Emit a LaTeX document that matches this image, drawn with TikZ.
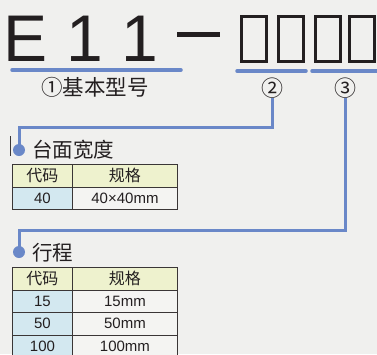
\documentclass[tikz,border=0pt]{standalone}
\usepackage{fontspec}
\setmainfont{Liberation Sans}
\newfontfamily\cjk{Noto Sans CJK SC}
\usetikzlibrary{positioning,calc}
\definecolor{bggray}{HTML}{F0F0EE}
\definecolor{lineblue}{HTML}{6A88C8}
\definecolor{headfill}{HTML}{EEF2CE}
\definecolor{codefill}{HTML}{D3E8F0}
\definecolor{specfill}{HTML}{F4F4F2}
\definecolor{gridgray}{HTML}{3A3636}
\definecolor{inkdark}{HTML}{231F20}

\tikzset{
  underline/.style={lineblue, line width=3.5pt, line cap=round},
  leader/.style={lineblue, line width=3pt},
  tofu/.style={draw=inkdark, line width=3pt},
  cell/.style={draw=gridgray, line width=0.9pt, inner sep=0pt, anchor=north west,
    minimum height=22.5pt, text=inkdark, font=\fontsize{15}{15}\selectfont},
  codecell/.style={cell, minimum width=60pt},
  speccell/.style={cell, minimum width=105pt},
  headtext/.style={font=\cjk\fontsize{16}{16}\selectfont},
  marker/.style={circle, fill=lineblue, inner sep=0pt, minimum size=12pt},
  heading/.style={anchor=west, inner sep=0pt, text=inkdark, font=\cjk\fontsize{20.5}{20.5}\selectfont}
}

\begin{document}
\begin{tikzpicture}[x=1pt,y=-1pt]
\fill[bggray] (0,0) rectangle (377,354);
\useasboundingbox (0,0) rectangle (377,354);

% Model code
\node[anchor=base west, inner sep=0pt, text=inkdark, font=\fontsize{66}{66}\selectfont] (code) at (3.8,61) {E 1 1};
\fill[inkdark] (177,31.7) rectangle (220,37.3);
\foreach \x/\name in {240/boxa, 277/boxb, 314/boxc, 348/boxd} {
    \draw[tofu] (\x+1.5,16.5) rectangle (\x+26.5,61.5);
}

% Underlines
\draw[underline] (12,70) -- (181,70);
\draw[underline] (237,71) -- (306,71);
\draw[underline] (312,71) -- (380,71);

\node[anchor=west, inner sep=0pt, text=inkdark, font=\cjk\fontsize{21.5}{21.5}\selectfont] (basic) at (41,87) {①基本型号};
\node[inner sep=0pt, text=inkdark, font=\cjk\fontsize{22}{22}\selectfont] (mark2) at (272,88) {②};
\node[inner sep=0pt, text=inkdark, font=\cjk\fontsize{22}{22}\selectfont] (mark3) at (345,88) {③};

% Leader lines
\node[marker] (dot1) at (19,150) {};
\node[marker] (dot2) at (19,252) {};
\coordinate (bend1a) at (272,127);
\coordinate (bend1b) at (19,127);
\coordinate (bend2a) at (345,230);
\coordinate (bend2b) at (19,230);
\draw[leader] (mark2.south) -- (bend1a) -- (bend1b) -- (dot1.center);
\draw[leader] (mark3.south) -- (bend2a) -- (bend2b) -- (dot2.center);
\draw[gridgray, line width=0.8pt] (10.5,136) -- (10.5,156);

% Table width
\node[heading] (title1) at (32,150) {台面宽度};
\node[codecell, fill=headfill, headtext] (h1a) at (12,164) {代码};
\node[speccell, fill=headfill, headtext] (h1b) at (72,164) {规格};
\node[codecell, fill=codefill] (r1a) at (12,186.5) {40};
\node[speccell, fill=specfill] (r1b) at (72,186.5) {40×40mm};

% Stroke
\node[heading] (title2) at (32,253) {行程};
\node[codecell, fill=headfill, headtext] (h2a) at (12,267) {代码};
\node[speccell, fill=headfill, headtext] (h2b) at (72,267) {规格};
\foreach \val/\y in {15/289.5, 50/312, 100/334.5} {
    \node[codecell, fill=codefill] at (12,\y) {\val};
    \node[speccell, fill=specfill] at (72,\y) {\val mm};
}

\end{tikzpicture}
\end{document}
